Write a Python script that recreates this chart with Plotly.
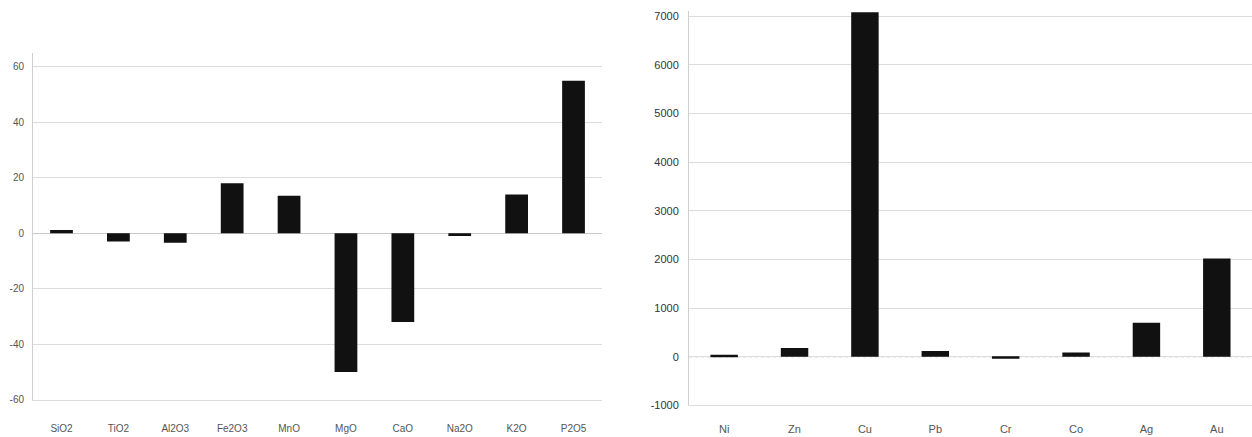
import plotly.graph_objects as go

# Major oxides: relative change (%)
oxides = ["SiO2", "TiO2", "Al2O3", "Fe2O3", "MnO", "MgO", "CaO", "Na2O", "K2O", "P2O5"]
oxide_change = [1.2, -3, -3.4, 18, 13.5, -50, -32, -1, 14, 55]
oxide_ticks = [-60, -40, -20, 0, 20, 40, 60]

# Trace metals: relative change (%)
metals = ["Ni", "Zn", "Cu", "Pb", "Cr", "Co", "Ag", "Au"]
metal_change = [40, 180, 7080, 120, -40, 90, 700, 2020]
metal_ticks = [-1000, 0, 1000, 2000, 3000, 4000, 5000, 6000, 7000]

BAR = "#111111"
GRID = "#dcdcdc"
AXIS = "#cfcfcf"
TXT = "#555555"
FONT = "Liberation Sans, Arial, sans-serif"

fig = go.Figure()
fig.add_trace(go.Bar(x=oxides, y=oxide_change, marker=dict(color=BAR, line=dict(width=0)),
                     width=0.4, xaxis="x", yaxis="y", showlegend=False))
fig.add_trace(go.Bar(x=metals, y=metal_change, marker=dict(color=BAR, line=dict(width=0)),
                     width=0.39, xaxis="x2", yaxis="y2", showlegend=False))

fig.update_layout(
    width=1252, height=437,
    margin=dict(l=0, r=0, t=0, b=0),
    paper_bgcolor="white", plot_bgcolor="white",
    font=dict(family=FONT, color=TXT),
    xaxis=dict(domain=[0.0264, 0.4808], anchor="y", showgrid=False, showline=True,
               linecolor=GRID, linewidth=1,
               ticks="", tickfont=dict(size=10, color=TXT), ticklabelstandoff=19),
    yaxis=dict(domain=[0.073, 0.879], anchor="x", range=[-60, 65], tickvals=oxide_ticks,
               ticktext=[str(v) for v in oxide_ticks],
               showgrid=True, gridcolor=GRID, gridwidth=1, zeroline=True,
               zerolinecolor="#c8c8c8", zerolinewidth=1, showline=True, linecolor=AXIS,
               linewidth=1, ticks="", tickfont=dict(size=10, color=TXT), ticklabelstandoff=6),
    xaxis2=dict(domain=[0.5503, 1.0], anchor="y2", showgrid=False, showline=True,
                linecolor=GRID, linewidth=1,
                ticks="", tickfont=dict(size=11, color=TXT), ticklabelstandoff=13),
    yaxis2=dict(domain=[0.0595, 0.976], anchor="x2", range=[-1000, 7100], tickvals=metal_ticks,
                ticktext=[str(v) for v in metal_ticks],
                showgrid=True, gridcolor=GRID, gridwidth=1, zeroline=False,
                showline=True, linecolor=AXIS, linewidth=1, ticks="",
                tickfont=dict(size=11, color="#333333"), ticklabelstandoff=7),
    bargap=0.6,
)

# dotted baseline of the trace-metal panel
fig.add_shape(type="line", xref="x2 domain", yref="y2", x0=0, x1=1, y0=0, y1=0,
              line=dict(color="#b5b5b5", width=1, dash="dot"), layer="below")

fig.write_html("out.html")
